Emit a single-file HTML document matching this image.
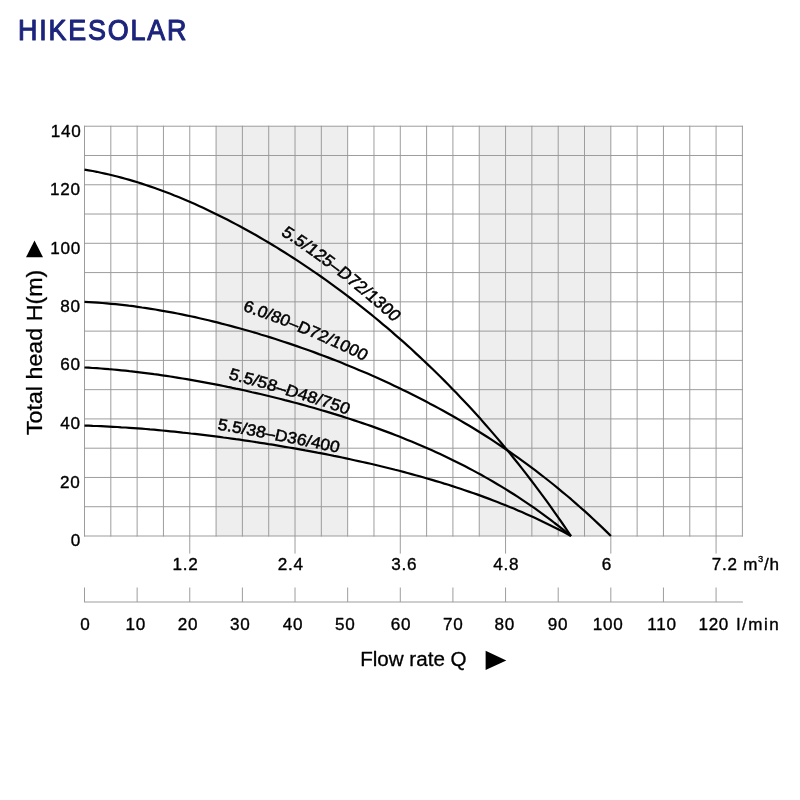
<!DOCTYPE html>
<html lang="en"><head><meta charset="utf-8"><title>HIKESOLAR pump curves</title>
<style>html,body{margin:0;padding:0;background:#fff}body{width:800px;height:800px;overflow:hidden}svg{display:block}text{font-family:"Liberation Sans",Arial,Helvetica,sans-serif}</style>
</head><body>
<svg width="800" height="800" viewBox="0 0 800 800">
<rect width="800" height="800" fill="#fff"/>
<rect x="216.08" y="126.22" width="131.58" height="409.78" fill="#eeeeee"/>
<rect x="479.24" y="126.22" width="131.58" height="409.78" fill="#eeeeee"/>
<path d="M84.50 125.72V536.50M110.82 125.72V536.50M137.13 125.72V536.50M163.45 125.72V536.50M189.76 125.72V553.60M216.08 125.72V536.50M242.40 125.72V536.50M268.71 125.72V536.50M295.03 125.72V553.60M321.34 125.72V536.50M347.66 125.72V536.50M373.98 125.72V536.50M400.29 125.72V553.60M426.61 125.72V536.50M452.92 125.72V536.50M479.24 125.72V536.50M505.56 125.72V553.60M531.87 125.72V536.50M558.19 125.72V536.50M584.50 125.72V536.50M610.82 125.72V553.60M637.14 125.72V536.50M663.45 125.72V536.50M689.77 125.72V536.50M716.08 125.72V553.60M742.40 125.72V536.50M84.00 536.00H742.90M84.00 506.73H742.90M84.00 477.46H742.90M84.00 448.19H742.90M84.00 418.92H742.90M84.00 389.65H742.90M84.00 360.38H742.90M84.00 331.11H742.90M84.00 301.84H742.90M84.00 272.57H742.90M84.00 243.30H742.90M84.00 214.03H742.90M84.00 184.76H742.90M84.00 155.49H742.90M84.00 126.22H742.90" fill="none" stroke="#989898" stroke-width="0.95"/>
<path d="M84.00 602H742.90M84.50 587.5V602M137.13 587.5V602M189.76 587.5V602M242.40 587.5V602M295.03 587.5V602M347.66 587.5V602M400.29 587.5V602M452.92 587.5V602M505.56 587.5V602M558.19 587.5V602M610.82 587.5V602M663.45 587.5V602M716.08 587.5V602" fill="none" stroke="#989898" stroke-width="0.95"/>
<path d="M84.5 169.6L88.6 170.3L92.7 171.0L96.8 171.8L100.9 172.7L104.9 173.6L109.0 174.5L113.1 175.5L117.2 176.5L121.3 177.6L125.4 178.7L129.5 179.9L133.6 181.1L137.6 182.3L141.7 183.6L145.8 185.0L149.9 186.4L154.0 187.8L158.1 189.2L162.2 190.7L166.3 192.3L170.4 193.8L174.4 195.5L178.5 197.1L182.6 198.8L186.7 200.5L190.8 202.3L194.9 204.1L199.0 205.9L203.1 207.8L207.1 209.7L211.2 211.7L215.3 213.7L219.4 215.7L223.5 217.7L227.6 219.8L231.7 221.9L235.8 224.1L239.9 226.3L243.9 228.5L248.0 230.7L252.1 233.0L256.2 235.3L260.3 237.7L264.4 240.1L268.5 242.5L272.6 245.0L276.6 247.4L280.7 250.0L284.8 252.5L288.9 255.1L293.0 257.7L297.1 260.4L301.2 263.1L305.3 265.8L309.4 268.6L313.4 271.3L317.5 274.2L321.6 277.0L325.7 279.9L329.8 282.9L333.9 285.8L338.0 288.8L342.1 291.9L346.1 294.9L350.2 298.0L354.3 301.2L358.4 304.4L362.5 307.6L366.6 310.8L370.7 314.1L374.8 317.5L378.9 320.9L382.9 324.3L387.0 327.7L391.1 331.2L395.2 334.8L399.3 338.3L403.4 341.9L407.5 345.6L411.6 349.3L415.6 353.1L419.7 356.9L423.8 360.7L427.9 364.6L432.0 368.5L436.1 372.5L440.2 376.5L444.3 380.6L448.4 384.7L452.4 388.9L456.5 393.1L460.6 397.4L464.7 401.8L468.8 406.1L472.9 410.6L477.0 415.1L481.1 419.6L485.1 424.2L489.2 428.9L493.3 433.6L497.4 438.4L501.5 443.3L505.6 448.2L509.7 453.1L513.8 458.2L517.9 463.3L521.9 468.4L526.0 473.7L530.1 479.0L534.2 484.4L538.3 489.8L542.4 495.3L546.5 500.9L550.6 506.6L554.6 512.3L558.7 518.1L562.8 524.0L566.9 530.0L571.0 536.0" fill="none" stroke="#000" stroke-width="2.2" stroke-linejoin="round"/>
<path d="M84.5 301.9L88.9 302.1L93.3 302.4L97.8 302.7L102.2 303.0L106.6 303.4L111.0 303.8L115.5 304.2L119.9 304.6L124.3 305.1L128.7 305.7L133.2 306.2L137.6 306.8L142.0 307.5L146.4 308.1L150.9 308.8L155.3 309.5L159.7 310.3L164.1 311.1L168.5 311.9L173.0 312.7L177.4 313.5L181.8 314.4L186.2 315.3L190.7 316.3L195.1 317.2L199.5 318.2L203.9 319.2L208.4 320.3L212.8 321.4L217.2 322.4L221.6 323.6L226.1 324.7L230.5 325.9L234.9 327.1L239.3 328.3L243.7 329.5L248.2 330.8L252.6 332.0L257.0 333.3L261.4 334.7L265.9 336.0L270.3 337.4L274.7 338.8L279.1 340.2L283.6 341.7L288.0 343.1L292.4 344.6L296.8 346.1L301.3 347.7L305.7 349.2L310.1 350.8L314.5 352.4L318.9 354.1L323.4 355.7L327.8 357.4L332.2 359.1L336.6 360.8L341.1 362.6L345.5 364.4L349.9 366.2L354.3 368.0L358.8 369.9L363.2 371.7L367.6 373.6L372.0 375.6L376.5 377.5L380.9 379.5L385.3 381.5L389.7 383.6L394.1 385.7L398.6 387.8L403.0 389.9L407.4 392.1L411.8 394.3L416.3 396.5L420.7 398.7L425.1 401.0L429.5 403.4L434.0 405.7L438.4 408.1L442.8 410.5L447.2 413.0L451.7 415.5L456.1 418.0L460.5 420.6L464.9 423.2L469.3 425.8L473.8 428.5L478.2 431.3L482.6 434.0L487.0 436.8L491.5 439.7L495.9 442.6L500.3 445.5L504.7 448.5L509.2 451.5L513.6 454.6L518.0 457.7L522.4 460.9L526.9 464.1L531.3 467.4L535.7 470.7L540.1 474.1L544.5 477.5L549.0 481.0L553.4 484.5L557.8 488.1L562.2 491.8L566.7 495.5L571.1 499.2L575.5 503.1L579.9 507.0L584.4 510.9L588.8 514.9L593.2 519.0L597.6 523.1L602.1 527.4L606.5 531.6L610.9 536.0" fill="none" stroke="#000" stroke-width="2.2" stroke-linejoin="round"/>
<path d="M84.5 367.5L88.6 367.7L92.7 368.0L96.8 368.2L100.9 368.5L104.9 368.8L109.0 369.2L113.1 369.5L117.2 369.9L121.3 370.3L125.4 370.7L129.5 371.2L133.6 371.6L137.6 372.1L141.7 372.6L145.8 373.1L149.9 373.6L154.0 374.2L158.1 374.7L162.2 375.3L166.3 375.9L170.4 376.5L174.4 377.2L178.5 377.8L182.6 378.5L186.7 379.2L190.8 379.9L194.9 380.6L199.0 381.3L203.1 382.1L207.1 382.8L211.2 383.6L215.3 384.4L219.4 385.2L223.5 386.0L227.6 386.9L231.7 387.7L235.8 388.6L239.9 389.4L243.9 390.3L248.0 391.2L252.1 392.2L256.2 393.1L260.3 394.0L264.4 395.0L268.5 396.0L272.6 397.0L276.6 398.0L280.7 399.0L284.8 400.1L288.9 401.1L293.0 402.2L297.1 403.3L301.2 404.4L305.3 405.5L309.4 406.7L313.4 407.8L317.5 409.0L321.6 410.2L325.7 411.4L329.8 412.6L333.9 413.9L338.0 415.1L342.1 416.4L346.1 417.7L350.2 419.0L354.3 420.4L358.4 421.7L362.5 423.1L366.6 424.5L370.7 425.9L374.8 427.4L378.9 428.9L382.9 430.4L387.0 431.9L391.1 433.4L395.2 435.0L399.3 436.6L403.4 438.2L407.5 439.9L411.6 441.5L415.6 443.2L419.7 445.0L423.8 446.7L427.9 448.5L432.0 450.3L436.1 452.2L440.2 454.1L444.3 456.0L448.4 457.9L452.4 459.9L456.5 461.9L460.6 464.0L464.7 466.1L468.8 468.2L472.9 470.4L477.0 472.6L481.1 474.8L485.1 477.1L489.2 479.4L493.3 481.8L497.4 484.2L501.5 486.6L505.6 489.1L509.7 491.7L513.8 494.3L517.9 496.9L521.9 499.6L526.0 502.3L530.1 505.1L534.2 507.9L538.3 510.8L542.4 513.8L546.5 516.8L550.6 519.8L554.6 523.0L558.7 526.1L562.8 529.4L566.9 532.6L571.0 536.0" fill="none" stroke="#000" stroke-width="2.2" stroke-linejoin="round"/>
<path d="M84.5 425.6L88.6 425.7L92.7 425.9L96.8 426.0L100.9 426.2L104.9 426.4L109.0 426.6L113.1 426.8L117.2 427.0L121.3 427.3L125.4 427.5L129.5 427.8L133.6 428.1L137.6 428.4L141.7 428.7L145.8 429.0L149.9 429.4L154.0 429.7L158.1 430.1L162.2 430.5L166.3 430.9L170.4 431.3L174.4 431.7L178.5 432.1L182.6 432.6L186.7 433.0L190.8 433.5L194.9 433.9L199.0 434.4L203.1 434.9L207.1 435.4L211.2 435.9L215.3 436.4L219.4 436.9L223.5 437.5L227.6 438.0L231.7 438.6L235.8 439.2L239.9 439.7L243.9 440.3L248.0 440.9L252.1 441.5L256.2 442.2L260.3 442.8L264.4 443.4L268.5 444.1L272.6 444.7L276.6 445.4L280.7 446.1L284.8 446.8L288.9 447.5L293.0 448.2L297.1 448.9L301.2 449.6L305.3 450.4L309.4 451.1L313.4 451.9L317.5 452.7L321.6 453.4L325.7 454.2L329.8 455.0L333.9 455.9L338.0 456.7L342.1 457.5L346.1 458.4L350.2 459.3L354.3 460.2L358.4 461.1L362.5 462.0L366.6 462.9L370.7 463.8L374.8 464.8L378.9 465.8L382.9 466.7L387.0 467.7L391.1 468.7L395.2 469.8L399.3 470.8L403.4 471.9L407.5 473.0L411.6 474.1L415.6 475.2L419.7 476.3L423.8 477.5L427.9 478.7L432.0 479.9L436.1 481.1L440.2 482.3L444.3 483.6L448.4 484.8L452.4 486.1L456.5 487.5L460.6 488.8L464.7 490.2L468.8 491.6L472.9 493.0L477.0 494.4L481.1 495.9L485.1 497.4L489.2 498.9L493.3 500.5L497.4 502.0L501.5 503.7L505.6 505.3L509.7 507.0L513.8 508.6L517.9 510.4L521.9 512.1L526.0 513.9L530.1 515.8L534.2 517.6L538.3 519.5L542.4 521.4L546.5 523.4L550.6 525.4L554.6 527.4L558.7 529.5L562.8 531.6L566.9 533.8L571.0 536.0" fill="none" stroke="#000" stroke-width="2.2" stroke-linejoin="round"/>
<defs>
<path id="p1" d="M248.1 234.5L248.3 234.6L251.9 237.2L255.6 239.7L259.2 242.5L262.8 245.3L266.3 248.1L269.9 250.9L273.5 253.8L277.0 256.7L280.6 259.6L284.2 262.6L287.7 265.6L291.3 268.6L294.9 271.7L298.4 274.8L302.0 277.9L305.5 281.1L309.1 284.3L312.6 287.6L316.2 290.8L319.7 294.2L323.2 297.5L326.8 300.9L330.3 304.3L333.9 307.8L337.4 311.3L340.9 314.8L344.5 318.4L348.0 322.0L351.5 325.7L355.1 329.3L358.6 333.0L362.3 336.7L365.9 340.4L369.6 344.1L373.2 347.9L376.9 351.7L380.5 355.6L384.2 359.5L387.8 363.5L391.5 367.5L395.1 371.5"/>
<path id="p2" d="M226.6 310.9L228.6 311.5L232.8 312.8L237.0 314.4L241.1 316.0L245.2 317.6L249.4 319.2L253.5 320.8L257.6 322.5L261.7 324.2L265.8 325.9L270.0 327.6L274.1 329.4L278.2 331.2L282.3 333.0L286.4 334.8L290.5 336.6L294.6 338.5L298.7 340.4L302.7 342.3L306.8 344.3L310.9 346.2L315.0 348.2L319.1 350.2L323.2 352.3L327.2 354.3L331.3 356.4L335.4 358.5L339.4 360.7L343.5 362.8L347.6 365.0L351.7 367.0L355.9 369.0L360.1 371.0L364.3 373.0L368.5 375.1L372.6 377.2"/>
<path id="p3" d="M209.2 378.7L210.5 379.0L214.3 380.1L218.0 381.2L221.7 382.3L225.5 383.4L229.2 384.5L232.9 385.6L236.6 386.8L240.4 387.9L244.1 389.1L247.8 390.3L251.5 391.5L255.2 392.7L258.9 394.0L262.7 395.2L266.4 396.5L270.1 397.7L273.8 398.9L277.6 400.1L281.3 401.3L285.1 402.6L288.8 403.8L292.5 405.1L296.3 406.4L300.0 407.7L303.7 409.1L307.5 410.4L311.2 411.8L314.9 413.2L318.7 414.6L322.4 416.0L326.2 417.4L329.9 418.7L333.7 420.1L337.4 421.5L341.2 423.0L345.0 424.4L348.7 425.9L352.5 427.4L356.3 428.9"/>
<path id="p4" d="M201.8 429.6L205.1 430.1L208.9 430.8L212.7 431.5L216.5 432.2L220.3 432.9L224.1 433.6L227.9 434.4L231.6 435.1L235.4 435.9L239.2 436.6L243.0 437.4L246.8 438.2L250.6 439.0L254.4 439.8L258.2 440.6L262.0 441.4L265.8 442.2L269.6 442.9L273.4 443.7L277.2 444.5L281.0 445.4L284.8 446.2L288.6 447.0L292.4 447.8L296.2 448.7L300.0 449.6L303.8 450.4L307.6 451.3L311.4 452.2L315.2 453.2L319.0 454.0L322.8 454.9L326.6 455.8L330.4 456.7L334.2 457.6L338.1 458.5L341.9 459.4L345.7 460.3L349.5 461.3"/>
</defs>
<text transform="scale(1.13 1)" font-size="16.2" fill="#000" stroke="#000" stroke-width="0.5" letter-spacing="0"><textPath href="#p1">5.5/125–D72/1300</textPath></text>
<text transform="scale(1.07 1)" font-size="16.2" fill="#000" stroke="#000" stroke-width="0.5" letter-spacing="0"><textPath href="#p2">6.0/80–D72/1000</textPath></text>
<text transform="scale(1.09 1)" font-size="16.2" fill="#000" stroke="#000" stroke-width="0.5" letter-spacing="0"><textPath href="#p3">5.5/58–D48/750</textPath></text>
<text transform="scale(1.075 1)" font-size="16.2" fill="#000" stroke="#000" stroke-width="0.5" letter-spacing="0"><textPath href="#p4">5.5/38–D36/400</textPath></text>
<text transform="translate(18.07 39.70) scale(0.9000 1)" font-size="29.9" fill="#1c247c" letter-spacing="2.007" stroke="#1c247c" stroke-width="1.1" stroke-linejoin="round">HIKESOLAR</text>
<text transform="translate(50.67 136.80) scale(1.0500 1)" font-size="16.3" fill="#000" letter-spacing="0.7" stroke="#000" stroke-width="0.35" stroke-linejoin="round">140</text>
<text transform="translate(49.92 195.20) scale(1.0500 1)" font-size="16.3" fill="#000" letter-spacing="0.7" stroke="#000" stroke-width="0.35" stroke-linejoin="round">120</text>
<text transform="translate(50.27 253.70) scale(1.0500 1)" font-size="16.3" fill="#000" letter-spacing="0.7" stroke="#000" stroke-width="0.35" stroke-linejoin="round">100</text>
<text transform="translate(60.29 312.20) scale(1.0500 1)" font-size="16.3" fill="#000" letter-spacing="0.7" stroke="#000" stroke-width="0.35" stroke-linejoin="round">80</text>
<text transform="translate(60.28 370.30) scale(1.0500 1)" font-size="16.3" fill="#000" letter-spacing="0.7" stroke="#000" stroke-width="0.35" stroke-linejoin="round">60</text>
<text transform="translate(60.21 428.80) scale(1.0500 1)" font-size="16.3" fill="#000" letter-spacing="0.7" stroke="#000" stroke-width="0.35" stroke-linejoin="round">40</text>
<text transform="translate(60.08 487.70) scale(1.0500 1)" font-size="16.3" fill="#000" letter-spacing="0.7" stroke="#000" stroke-width="0.35" stroke-linejoin="round">20</text>
<text transform="translate(70.68 546.00) scale(1.0500 1)" font-size="16.3" fill="#000" letter-spacing="0.7" stroke="#000" stroke-width="0.35" stroke-linejoin="round">0</text>
<text transform="translate(172.56 570.00) scale(1.0500 1)" font-size="16.3" fill="#000" letter-spacing="0.7" stroke="#000" stroke-width="0.35" stroke-linejoin="round">1.2</text>
<text transform="translate(277.83 570.00) scale(1.0500 1)" font-size="16.3" fill="#000" letter-spacing="0.7" stroke="#000" stroke-width="0.35" stroke-linejoin="round">2.4</text>
<text transform="translate(391.31 570.00) scale(1.0500 1)" font-size="16.3" fill="#000" letter-spacing="0.7" stroke="#000" stroke-width="0.35" stroke-linejoin="round">3.6</text>
<text transform="translate(493.19 570.00) scale(1.0500 1)" font-size="16.3" fill="#000" letter-spacing="0.7" stroke="#000" stroke-width="0.35" stroke-linejoin="round">4.8</text>
<text transform="translate(601.74 570.00) scale(1.0500 1)" font-size="16.3" fill="#000" letter-spacing="0.7" stroke="#000" stroke-width="0.35" stroke-linejoin="round">6</text>
<text transform="translate(711.79 570.00) scale(1.0473 1)" font-size="16.3" fill="#000" letter-spacing="0.7" stroke="#000" stroke-width="0.35" stroke-linejoin="round">7.2 m<tspan font-size="9" dy="-7.6">3</tspan><tspan dy="7.6">/h</tspan></text>
<text transform="translate(80.23 630.00) scale(1.0500 1)" font-size="16.3" fill="#000" letter-spacing="0.7" stroke="#000" stroke-width="0.35" stroke-linejoin="round">0</text>
<text transform="translate(125.46 630.00) scale(1.0500 1)" font-size="16.3" fill="#000" letter-spacing="0.7" stroke="#000" stroke-width="0.35" stroke-linejoin="round">10</text>
<text transform="translate(177.78 630.00) scale(1.0500 1)" font-size="16.3" fill="#000" letter-spacing="0.7" stroke="#000" stroke-width="0.35" stroke-linejoin="round">20</text>
<text transform="translate(229.88 630.00) scale(1.0500 1)" font-size="16.3" fill="#000" letter-spacing="0.7" stroke="#000" stroke-width="0.35" stroke-linejoin="round">30</text>
<text transform="translate(282.76 630.00) scale(1.0500 1)" font-size="16.3" fill="#000" letter-spacing="0.7" stroke="#000" stroke-width="0.35" stroke-linejoin="round">40</text>
<text transform="translate(335.11 630.00) scale(1.0500 1)" font-size="16.3" fill="#000" letter-spacing="0.7" stroke="#000" stroke-width="0.35" stroke-linejoin="round">50</text>
<text transform="translate(390.68 630.00) scale(1.0500 1)" font-size="16.3" fill="#000" letter-spacing="0.7" stroke="#000" stroke-width="0.35" stroke-linejoin="round">60</text>
<text transform="translate(442.91 630.00) scale(1.0500 1)" font-size="16.3" fill="#000" letter-spacing="0.7" stroke="#000" stroke-width="0.35" stroke-linejoin="round">70</text>
<text transform="translate(494.59 630.00) scale(1.0500 1)" font-size="16.3" fill="#000" letter-spacing="0.7" stroke="#000" stroke-width="0.35" stroke-linejoin="round">80</text>
<text transform="translate(547.80 630.00) scale(1.0500 1)" font-size="16.3" fill="#000" letter-spacing="0.7" stroke="#000" stroke-width="0.35" stroke-linejoin="round">90</text>
<text transform="translate(592.82 630.00) scale(1.0500 1)" font-size="16.3" fill="#000" letter-spacing="0.7" stroke="#000" stroke-width="0.35" stroke-linejoin="round">100</text>
<text transform="translate(647.22 630.00) scale(1.0500 1)" font-size="16.3" fill="#000" letter-spacing="0.7" stroke="#000" stroke-width="0.35" stroke-linejoin="round">110</text>
<text transform="translate(698.46 630.00) scale(1.0460 1)" font-size="16.3" fill="#000" letter-spacing="0.7" stroke="#000" stroke-width="0.35" stroke-linejoin="round">120 <tspan dx="2" letter-spacing="1.46">l/min</tspan></text>
<text transform="translate(360.16 665.90) scale(1.0674 1)" font-size="19.3" fill="#000" stroke="#000" stroke-width="0.3" stroke-linejoin="round">Flow rate Q</text>
<text transform="translate(42.00 435.07) rotate(-90) scale(1.0198 1)" font-size="22.8" fill="#000" stroke="#000" stroke-width="0.3" stroke-linejoin="round">Total head H(m)</text>
<path d="M34.5 240.6L43 257.3H26Z" fill="#000"/>
<path d="M506.3 660.4L485.6 670.1V650.7Z" fill="#000"/>
</svg></body></html>
